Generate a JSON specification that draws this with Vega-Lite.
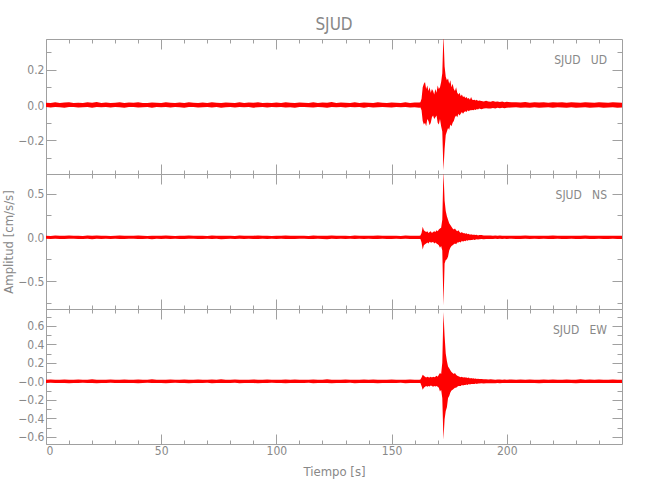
{
"$schema": "https://vega.github.io/schema/vega-lite/v6.json",
"background": "white",
"padding": {"left": 2, "top": 15, "right": 5, "bottom": 5},
"bounds": "flush",
"spacing": 0,
"datasets": {
"ud": [
{"t":0,"hi":0.013,"lo":-0.012},{"t":2,"hi":0.011,"lo":-0.014},{"t":4,"hi":0.015,"lo":-0.011},{"t":6,"hi":0.012,"lo":-0.013},{"t":8,"hi":0.014,"lo":-0.015},{"t":10,"hi":0.016,"lo":-0.012},{"t":12,"hi":0.012,"lo":-0.011},{"t":14,"hi":0.013,"lo":-0.014},{"t":16,"hi":0.011,"lo":-0.013},{"t":18,"hi":0.015,"lo":-0.012},
{"t":20,"hi":0.013,"lo":-0.016},{"t":22,"hi":0.017,"lo":-0.012},{"t":24,"hi":0.012,"lo":-0.013},{"t":26,"hi":0.014,"lo":-0.011},{"t":28,"hi":0.011,"lo":-0.014},{"t":30,"hi":0.013,"lo":-0.012},{"t":32,"hi":0.015,"lo":-0.013},{"t":34,"hi":0.012,"lo":-0.015},{"t":36,"hi":0.014,"lo":-0.012},{"t":38,"hi":0.013,"lo":-0.011},
{"t":40,"hi":0.016,"lo":-0.014},{"t":42,"hi":0.012,"lo":-0.013},{"t":44,"hi":0.011,"lo":-0.012},{"t":46,"hi":0.014,"lo":-0.016},{"t":48,"hi":0.013,"lo":-0.012},{"t":50,"hi":0.012,"lo":-0.013},{"t":52,"hi":0.015,"lo":-0.011},{"t":54,"hi":0.013,"lo":-0.014},{"t":56,"hi":0.011,"lo":-0.012},{"t":58,"hi":0.014,"lo":-0.013},
{"t":60,"hi":0.012,"lo":-0.015},{"t":62,"hi":0.016,"lo":-0.012},{"t":64,"hi":0.013,"lo":-0.011},{"t":66,"hi":0.012,"lo":-0.014},{"t":68,"hi":0.014,"lo":-0.013},{"t":70,"hi":0.011,"lo":-0.012},{"t":72,"hi":0.015,"lo":-0.014},{"t":74,"hi":0.013,"lo":-0.012},{"t":76,"hi":0.012,"lo":-0.016},{"t":78,"hi":0.014,"lo":-0.013},
{"t":80,"hi":0.013,"lo":-0.012},{"t":82,"hi":0.011,"lo":-0.014},{"t":84,"hi":0.015,"lo":-0.011},{"t":86,"hi":0.012,"lo":-0.013},{"t":88,"hi":0.014,"lo":-0.012},{"t":90,"hi":0.013,"lo":-0.015},{"t":92,"hi":0.016,"lo":-0.013},{"t":94,"hi":0.012,"lo":-0.012},{"t":96,"hi":0.013,"lo":-0.014},{"t":98,"hi":0.011,"lo":-0.011},
{"t":100,"hi":0.014,"lo":-0.013},{"t":102,"hi":0.012,"lo":-0.012},{"t":104,"hi":0.015,"lo":-0.014},{"t":106,"hi":0.013,"lo":-0.013},{"t":108,"hi":0.012,"lo":-0.015},{"t":110,"hi":0.014,"lo":-0.012},{"t":112,"hi":0.013,"lo":-0.011},{"t":114,"hi":0.011,"lo":-0.013},{"t":116,"hi":0.015,"lo":-0.014},{"t":118,"hi":0.012,"lo":-0.012},
{"t":120,"hi":0.014,"lo":-0.013},{"t":122,"hi":0.013,"lo":-0.016},{"t":124,"hi":0.017,"lo":-0.012},{"t":126,"hi":0.012,"lo":-0.013},{"t":128,"hi":0.014,"lo":-0.011},{"t":130,"hi":0.013,"lo":-0.014},{"t":132,"hi":0.011,"lo":-0.012},{"t":134,"hi":0.015,"lo":-0.013},{"t":136,"hi":0.012,"lo":-0.012},{"t":138,"hi":0.014,"lo":-0.015},
{"t":140,"hi":0.013,"lo":-0.012},{"t":142,"hi":0.012,"lo":-0.014},{"t":144,"hi":0.016,"lo":-0.013},{"t":146,"hi":0.013,"lo":-0.011},{"t":148,"hi":0.012,"lo":-0.013},{"t":150,"hi":0.014,"lo":-0.014},{"t":152,"hi":0.013,"lo":-0.012},{"t":154,"hi":0.011,"lo":-0.013},{"t":156,"hi":0.015,"lo":-0.012},{"t":158,"hi":0.012,"lo":-0.014},
{"t":160,"hi":0.014,"lo":-0.013},{"t":162,"hi":0.014,"lo":-0.015},{"t":162.5,"hi":0.016,"lo":-0.014},{"t":163,"hi":0.035,"lo":-0.03},{"t":163.5,"hi":0.10,"lo":-0.09},{"t":164,"hi":0.12,"lo":-0.11},{"t":164.5,"hi":0.13,"lo":-0.10},{"t":165,"hi":0.09,"lo":-0.12},{"t":165.5,"hi":0.11,"lo":-0.08},{"t":166,"hi":0.08,"lo":-0.09},
{"t":166.5,"hi":0.10,"lo":-0.115},{"t":167,"hi":0.07,"lo":-0.10},{"t":167.5,"hi":0.09,"lo":-0.07},{"t":168,"hi":0.08,"lo":-0.06},{"t":168.5,"hi":0.06,"lo":-0.08},{"t":169,"hi":0.09,"lo":-0.07},{"t":169.5,"hi":0.07,"lo":-0.06},{"t":170,"hi":0.11,"lo":-0.10},{"t":170.5,"hi":0.09,"lo":-0.11},{"t":171,"hi":0.10,"lo":-0.08},
{"t":171.5,"hi":0.13,"lo":-0.12},{"t":172,"hi":0.18,"lo":-0.15},{"t":172.5,"hi":0.40,"lo":-0.37},{"t":173,"hi":0.22,"lo":-0.25},{"t":173.5,"hi":0.16,"lo":-0.17},{"t":174,"hi":0.14,"lo":-0.15},{"t":174.5,"hi":0.15,"lo":-0.13},{"t":175,"hi":0.12,"lo":-0.14},{"t":175.5,"hi":0.14,"lo":-0.11},{"t":176,"hi":0.10,"lo":-0.12},
{"t":176.5,"hi":0.12,"lo":-0.10},{"t":177,"hi":0.09,"lo":-0.09},{"t":177.5,"hi":0.08,"lo":-0.07},{"t":178,"hi":0.10,"lo":-0.06},{"t":178.5,"hi":0.07,"lo":-0.07},{"t":179,"hi":0.06,"lo":-0.05},{"t":179.5,"hi":0.07,"lo":-0.06},{"t":180,"hi":0.05,"lo":-0.05},{"t":180.5,"hi":0.06,"lo":-0.04},{"t":181,"hi":0.045,"lo":-0.05},
{"t":181.5,"hi":0.05,"lo":-0.04},{"t":182,"hi":0.04,"lo":-0.035},{"t":182.5,"hi":0.045,"lo":-0.04},{"t":183,"hi":0.035,"lo":-0.03},{"t":183.5,"hi":0.04,"lo":-0.035},{"t":184,"hi":0.03,"lo":-0.03},{"t":184.5,"hi":0.045,"lo":-0.03},{"t":185,"hi":0.03,"lo":-0.028},{"t":185.5,"hi":0.028,"lo":-0.03},{"t":186,"hi":0.03,"lo":-0.025},
{"t":186.5,"hi":0.025,"lo":-0.028},{"t":187,"hi":0.03,"lo":-0.022},{"t":187.5,"hi":0.022,"lo":-0.025},{"t":188,"hi":0.025,"lo":-0.02},{"t":189,"hi":0.022,"lo":-0.024},{"t":190,"hi":0.02,"lo":-0.02},{"t":191,"hi":0.024,"lo":-0.018},{"t":192,"hi":0.02,"lo":-0.02},{"t":193,"hi":0.018,"lo":-0.02},{"t":194,"hi":0.022,"lo":-0.017},
{"t":195,"hi":0.018,"lo":-0.02},{"t":196,"hi":0.02,"lo":-0.016},{"t":197,"hi":0.017,"lo":-0.018},{"t":198,"hi":0.02,"lo":-0.016},{"t":199,"hi":0.016,"lo":-0.018},{"t":200,"hi":0.018,"lo":-0.016},{"t":202,"hi":0.015,"lo":-0.014},{"t":204,"hi":0.016,"lo":-0.013},{"t":206,"hi":0.014,"lo":-0.016},{"t":208,"hi":0.017,"lo":-0.014},
{"t":210,"hi":0.013,"lo":-0.015},{"t":212,"hi":0.015,"lo":-0.013},{"t":214,"hi":0.014,"lo":-0.016},{"t":216,"hi":0.016,"lo":-0.014},{"t":218,"hi":0.013,"lo":-0.013},{"t":220,"hi":0.015,"lo":-0.015},{"t":222,"hi":0.014,"lo":-0.013},{"t":224,"hi":0.016,"lo":-0.014},{"t":226,"hi":0.013,"lo":-0.016},{"t":228,"hi":0.015,"lo":-0.013},
{"t":230,"hi":0.014,"lo":-0.015},{"t":232,"hi":0.013,"lo":-0.014},{"t":234,"hi":0.016,"lo":-0.013},{"t":236,"hi":0.014,"lo":-0.015},{"t":238,"hi":0.013,"lo":-0.014},{"t":240,"hi":0.015,"lo":-0.013},{"t":242,"hi":0.014,"lo":-0.016},{"t":244,"hi":0.013,"lo":-0.014},{"t":246,"hi":0.015,"lo":-0.013},{"t":248,"hi":0.014,"lo":-0.015},{"t":250,"hi":0.013,"lo":-0.014}
],
"ns": [
{"t":0,"hi":0.018,"lo":-0.017},{"t":2,"hi":0.016,"lo":-0.019},{"t":4,"hi":0.020,"lo":-0.016},{"t":6,"hi":0.017,"lo":-0.018},{"t":8,"hi":0.019,"lo":-0.020},{"t":10,"hi":0.021,"lo":-0.017},{"t":12,"hi":0.017,"lo":-0.016},{"t":14,"hi":0.018,"lo":-0.019},{"t":16,"hi":0.016,"lo":-0.018},{"t":18,"hi":0.020,"lo":-0.017},
{"t":20,"hi":0.018,"lo":-0.021},{"t":22,"hi":0.022,"lo":-0.017},{"t":24,"hi":0.017,"lo":-0.018},{"t":26,"hi":0.019,"lo":-0.016},{"t":28,"hi":0.016,"lo":-0.019},{"t":30,"hi":0.018,"lo":-0.017},{"t":32,"hi":0.020,"lo":-0.018},{"t":34,"hi":0.017,"lo":-0.020},{"t":36,"hi":0.019,"lo":-0.017},{"t":38,"hi":0.018,"lo":-0.016},
{"t":40,"hi":0.021,"lo":-0.019},{"t":42,"hi":0.017,"lo":-0.018},{"t":44,"hi":0.016,"lo":-0.017},{"t":46,"hi":0.019,"lo":-0.021},{"t":48,"hi":0.018,"lo":-0.017},{"t":50,"hi":0.017,"lo":-0.018},{"t":52,"hi":0.020,"lo":-0.016},{"t":54,"hi":0.018,"lo":-0.019},{"t":56,"hi":0.016,"lo":-0.017},{"t":58,"hi":0.019,"lo":-0.018},
{"t":60,"hi":0.017,"lo":-0.020},{"t":62,"hi":0.021,"lo":-0.017},{"t":64,"hi":0.018,"lo":-0.016},{"t":66,"hi":0.017,"lo":-0.019},{"t":68,"hi":0.019,"lo":-0.018},{"t":70,"hi":0.016,"lo":-0.017},{"t":72,"hi":0.020,"lo":-0.019},{"t":74,"hi":0.018,"lo":-0.017},{"t":76,"hi":0.017,"lo":-0.021},{"t":78,"hi":0.019,"lo":-0.018},
{"t":80,"hi":0.018,"lo":-0.017},{"t":82,"hi":0.016,"lo":-0.019},{"t":84,"hi":0.020,"lo":-0.016},{"t":86,"hi":0.017,"lo":-0.018},{"t":88,"hi":0.019,"lo":-0.017},{"t":90,"hi":0.018,"lo":-0.020},{"t":92,"hi":0.021,"lo":-0.018},{"t":94,"hi":0.017,"lo":-0.017},{"t":96,"hi":0.018,"lo":-0.019},{"t":98,"hi":0.016,"lo":-0.016},
{"t":100,"hi":0.019,"lo":-0.018},{"t":102,"hi":0.017,"lo":-0.017},{"t":104,"hi":0.020,"lo":-0.019},{"t":106,"hi":0.018,"lo":-0.018},{"t":108,"hi":0.017,"lo":-0.020},{"t":110,"hi":0.019,"lo":-0.017},{"t":112,"hi":0.018,"lo":-0.016},{"t":114,"hi":0.016,"lo":-0.018},{"t":116,"hi":0.020,"lo":-0.019},{"t":118,"hi":0.017,"lo":-0.017},
{"t":120,"hi":0.019,"lo":-0.018},{"t":122,"hi":0.018,"lo":-0.021},{"t":124,"hi":0.022,"lo":-0.017},{"t":126,"hi":0.017,"lo":-0.018},{"t":128,"hi":0.019,"lo":-0.016},{"t":130,"hi":0.018,"lo":-0.019},{"t":132,"hi":0.016,"lo":-0.017},{"t":134,"hi":0.020,"lo":-0.018},{"t":136,"hi":0.017,"lo":-0.017},{"t":138,"hi":0.019,"lo":-0.020},
{"t":140,"hi":0.018,"lo":-0.017},{"t":142,"hi":0.017,"lo":-0.019},{"t":144,"hi":0.021,"lo":-0.018},{"t":146,"hi":0.018,"lo":-0.016},{"t":148,"hi":0.017,"lo":-0.018},{"t":150,"hi":0.019,"lo":-0.019},{"t":152,"hi":0.018,"lo":-0.017},{"t":154,"hi":0.016,"lo":-0.018},{"t":156,"hi":0.020,"lo":-0.017},{"t":158,"hi":0.017,"lo":-0.019},
{"t":160,"hi":0.019,"lo":-0.018},{"t":162,"hi":0.018,"lo":-0.018},{"t":162.5,"hi":0.02,"lo":-0.019},{"t":163,"hi":0.05,"lo":-0.06},{"t":163.5,"hi":0.12,"lo":-0.14},{"t":164,"hi":0.08,"lo":-0.09},{"t":164.5,"hi":0.07,"lo":-0.08},{"t":165,"hi":0.06,"lo":-0.07},{"t":165.5,"hi":0.07,"lo":-0.06},{"t":166,"hi":0.05,"lo":-0.07},
{"t":166.5,"hi":0.06,"lo":-0.05},{"t":167,"hi":0.07,"lo":-0.06},{"t":167.5,"hi":0.05,"lo":-0.06},{"t":168,"hi":0.06,"lo":-0.05},{"t":168.5,"hi":0.07,"lo":-0.07},{"t":169,"hi":0.06,"lo":-0.06},{"t":169.5,"hi":0.08,"lo":-0.07},{"t":170,"hi":0.07,"lo":-0.08},{"t":170.5,"hi":0.09,"lo":-0.09},{"t":171,"hi":0.10,"lo":-0.12},
{"t":171.5,"hi":0.11,"lo":-0.10},{"t":172,"hi":0.20,"lo":-0.15},{"t":172.5,"hi":0.76,"lo":-0.78},{"t":173,"hi":0.42,"lo":-0.30},{"t":173.5,"hi":0.30,"lo":-0.26},{"t":174,"hi":0.24,"lo":-0.25},{"t":174.5,"hi":0.20,"lo":-0.22},{"t":175,"hi":0.16,"lo":-0.15},{"t":175.5,"hi":0.14,"lo":-0.12},{"t":176,"hi":0.12,"lo":-0.10},
{"t":176.5,"hi":0.10,"lo":-0.09},{"t":177,"hi":0.09,"lo":-0.08},{"t":177.5,"hi":0.10,"lo":-0.07},{"t":178,"hi":0.08,"lo":-0.08},{"t":178.5,"hi":0.07,"lo":-0.06},{"t":179,"hi":0.08,"lo":-0.06},{"t":179.5,"hi":0.06,"lo":-0.05},{"t":180,"hi":0.05,"lo":-0.06},{"t":180.5,"hi":0.06,"lo":-0.04},{"t":181,"hi":0.045,"lo":-0.05},
{"t":181.5,"hi":0.05,"lo":-0.04},{"t":182,"hi":0.04,"lo":-0.045},{"t":182.5,"hi":0.045,"lo":-0.035},{"t":183,"hi":0.035,"lo":-0.04},{"t":183.5,"hi":0.04,"lo":-0.03},{"t":184,"hi":0.03,"lo":-0.035},{"t":184.5,"hi":0.035,"lo":-0.03},{"t":185,"hi":0.03,"lo":-0.03},{"t":185.5,"hi":0.03,"lo":-0.025},{"t":186,"hi":0.028,"lo":-0.03},
{"t":186.5,"hi":0.025,"lo":-0.025},{"t":187,"hi":0.03,"lo":-0.022},{"t":187.5,"hi":0.022,"lo":-0.025},{"t":188,"hi":0.025,"lo":-0.022},{"t":189,"hi":0.025,"lo":-0.02},{"t":190,"hi":0.022,"lo":-0.022},{"t":191,"hi":0.02,"lo":-0.02},{"t":192,"hi":0.022,"lo":-0.018},{"t":193,"hi":0.02,"lo":-0.02},{"t":194,"hi":0.018,"lo":-0.02},
{"t":195,"hi":0.02,"lo":-0.017},{"t":196,"hi":0.018,"lo":-0.018},{"t":197,"hi":0.02,"lo":-0.017},{"t":198,"hi":0.017,"lo":-0.019},{"t":199,"hi":0.018,"lo":-0.016},{"t":200,"hi":0.017,"lo":-0.018},{"t":202,"hi":0.018,"lo":-0.017},{"t":204,"hi":0.019,"lo":-0.018},{"t":206,"hi":0.017,"lo":-0.019},{"t":208,"hi":0.020,"lo":-0.017},
{"t":210,"hi":0.017,"lo":-0.018},{"t":212,"hi":0.019,"lo":-0.017},{"t":214,"hi":0.018,"lo":-0.020},{"t":216,"hi":0.019,"lo":-0.017},{"t":218,"hi":0.017,"lo":-0.018},{"t":220,"hi":0.020,"lo":-0.019},{"t":222,"hi":0.018,"lo":-0.017},{"t":224,"hi":0.019,"lo":-0.018},{"t":226,"hi":0.017,"lo":-0.020},{"t":228,"hi":0.019,"lo":-0.017},
{"t":230,"hi":0.018,"lo":-0.019},{"t":232,"hi":0.017,"lo":-0.018},{"t":234,"hi":0.020,"lo":-0.017},{"t":236,"hi":0.018,"lo":-0.019},{"t":238,"hi":0.017,"lo":-0.018},{"t":240,"hi":0.019,"lo":-0.017},{"t":242,"hi":0.018,"lo":-0.020},{"t":244,"hi":0.017,"lo":-0.018},{"t":246,"hi":0.019,"lo":-0.017},{"t":248,"hi":0.018,"lo":-0.019},{"t":250,"hi":0.017,"lo":-0.018}
],
"ew": [
{"t":0,"hi":0.017,"lo":-0.018},{"t":2,"hi":0.019,"lo":-0.016},{"t":4,"hi":0.016,"lo":-0.019},{"t":6,"hi":0.018,"lo":-0.017},{"t":8,"hi":0.020,"lo":-0.018},{"t":10,"hi":0.017,"lo":-0.020},{"t":12,"hi":0.016,"lo":-0.017},{"t":14,"hi":0.019,"lo":-0.018},{"t":16,"hi":0.018,"lo":-0.016},{"t":18,"hi":0.017,"lo":-0.019},
{"t":20,"hi":0.021,"lo":-0.018},{"t":22,"hi":0.017,"lo":-0.021},{"t":24,"hi":0.018,"lo":-0.017},{"t":26,"hi":0.016,"lo":-0.018},{"t":28,"hi":0.019,"lo":-0.016},{"t":30,"hi":0.017,"lo":-0.018},{"t":32,"hi":0.018,"lo":-0.019},{"t":34,"hi":0.020,"lo":-0.017},{"t":36,"hi":0.017,"lo":-0.018},{"t":38,"hi":0.016,"lo":-0.017},
{"t":40,"hi":0.019,"lo":-0.020},{"t":42,"hi":0.018,"lo":-0.017},{"t":44,"hi":0.017,"lo":-0.016},{"t":46,"hi":0.021,"lo":-0.019},{"t":48,"hi":0.017,"lo":-0.018},{"t":50,"hi":0.018,"lo":-0.017},{"t":52,"hi":0.016,"lo":-0.020},{"t":54,"hi":0.019,"lo":-0.018},{"t":56,"hi":0.017,"lo":-0.016},{"t":58,"hi":0.018,"lo":-0.019},
{"t":60,"hi":0.020,"lo":-0.017},{"t":62,"hi":0.017,"lo":-0.021},{"t":64,"hi":0.016,"lo":-0.018},{"t":66,"hi":0.019,"lo":-0.017},{"t":68,"hi":0.018,"lo":-0.019},{"t":70,"hi":0.017,"lo":-0.016},{"t":72,"hi":0.019,"lo":-0.020},{"t":74,"hi":0.017,"lo":-0.018},{"t":76,"hi":0.021,"lo":-0.017},{"t":78,"hi":0.018,"lo":-0.019},
{"t":80,"hi":0.017,"lo":-0.018},{"t":82,"hi":0.019,"lo":-0.016},{"t":84,"hi":0.016,"lo":-0.020},{"t":86,"hi":0.018,"lo":-0.017},{"t":88,"hi":0.017,"lo":-0.019},{"t":90,"hi":0.020,"lo":-0.018},{"t":92,"hi":0.018,"lo":-0.021},{"t":94,"hi":0.017,"lo":-0.017},{"t":96,"hi":0.019,"lo":-0.018},{"t":98,"hi":0.016,"lo":-0.016},
{"t":100,"hi":0.018,"lo":-0.019},{"t":102,"hi":0.017,"lo":-0.017},{"t":104,"hi":0.019,"lo":-0.020},{"t":106,"hi":0.018,"lo":-0.018},{"t":108,"hi":0.020,"lo":-0.017},{"t":110,"hi":0.017,"lo":-0.019},{"t":112,"hi":0.016,"lo":-0.018},{"t":114,"hi":0.018,"lo":-0.016},{"t":116,"hi":0.019,"lo":-0.020},{"t":118,"hi":0.017,"lo":-0.017},
{"t":120,"hi":0.018,"lo":-0.019},{"t":122,"hi":0.021,"lo":-0.018},{"t":124,"hi":0.017,"lo":-0.022},{"t":126,"hi":0.018,"lo":-0.017},{"t":128,"hi":0.016,"lo":-0.019},{"t":130,"hi":0.019,"lo":-0.018},{"t":132,"hi":0.017,"lo":-0.016},{"t":134,"hi":0.018,"lo":-0.020},{"t":136,"hi":0.017,"lo":-0.017},{"t":138,"hi":0.020,"lo":-0.019},
{"t":140,"hi":0.017,"lo":-0.018},{"t":142,"hi":0.019,"lo":-0.017},{"t":144,"hi":0.018,"lo":-0.021},{"t":146,"hi":0.016,"lo":-0.018},{"t":148,"hi":0.018,"lo":-0.017},{"t":150,"hi":0.019,"lo":-0.019},{"t":152,"hi":0.017,"lo":-0.018},{"t":154,"hi":0.018,"lo":-0.016},{"t":156,"hi":0.017,"lo":-0.020},{"t":158,"hi":0.019,"lo":-0.017},
{"t":160,"hi":0.018,"lo":-0.019},{"t":162,"hi":0.017,"lo":-0.018},{"t":162.5,"hi":0.019,"lo":-0.018},{"t":163,"hi":0.04,"lo":-0.05},{"t":163.5,"hi":0.07,"lo":-0.09},{"t":164,"hi":0.06,"lo":-0.07},{"t":164.5,"hi":0.05,"lo":-0.06},{"t":165,"hi":0.04,"lo":-0.05},{"t":165.5,"hi":0.05,"lo":-0.06},{"t":166,"hi":0.045,"lo":-0.05},
{"t":166.5,"hi":0.04,"lo":-0.055},{"t":167,"hi":0.05,"lo":-0.045},{"t":167.5,"hi":0.04,"lo":-0.05},{"t":168,"hi":0.05,"lo":-0.06},{"t":168.5,"hi":0.045,"lo":-0.05},{"t":169,"hi":0.05,"lo":-0.055},{"t":169.5,"hi":0.06,"lo":-0.05},{"t":170,"hi":0.05,"lo":-0.06},{"t":170.5,"hi":0.07,"lo":-0.07},{"t":171,"hi":0.09,"lo":-0.11},
{"t":171.5,"hi":0.08,"lo":-0.09},{"t":172,"hi":0.20,"lo":-0.18},{"t":172.5,"hi":0.75,"lo":-0.63},{"t":173,"hi":0.49,"lo":-0.41},{"t":173.5,"hi":0.30,"lo":-0.32},{"t":174,"hi":0.22,"lo":-0.28},{"t":174.5,"hi":0.16,"lo":-0.18},{"t":175,"hi":0.14,"lo":-0.16},{"t":175.5,"hi":0.12,"lo":-0.12},{"t":176,"hi":0.10,"lo":-0.10},
{"t":176.5,"hi":0.09,"lo":-0.09},{"t":177,"hi":0.08,"lo":-0.08},{"t":177.5,"hi":0.09,"lo":-0.07},{"t":178,"hi":0.07,"lo":-0.07},{"t":178.5,"hi":0.06,"lo":-0.06},{"t":179,"hi":0.055,"lo":-0.05},{"t":179.5,"hi":0.05,"lo":-0.05},{"t":180,"hi":0.045,"lo":-0.05},{"t":180.5,"hi":0.05,"lo":-0.04},{"t":181,"hi":0.04,"lo":-0.045},
{"t":181.5,"hi":0.045,"lo":-0.04},{"t":182,"hi":0.04,"lo":-0.04},{"t":182.5,"hi":0.04,"lo":-0.035},{"t":183,"hi":0.035,"lo":-0.04},{"t":183.5,"hi":0.04,"lo":-0.03},{"t":184,"hi":0.03,"lo":-0.035},{"t":184.5,"hi":0.035,"lo":-0.03},{"t":185,"hi":0.03,"lo":-0.03},{"t":185.5,"hi":0.032,"lo":-0.028},{"t":186,"hi":0.028,"lo":-0.03},
{"t":186.5,"hi":0.03,"lo":-0.025},{"t":187,"hi":0.025,"lo":-0.028},{"t":187.5,"hi":0.028,"lo":-0.025},{"t":188,"hi":0.025,"lo":-0.025},{"t":189,"hi":0.024,"lo":-0.022},{"t":190,"hi":0.022,"lo":-0.024},{"t":191,"hi":0.022,"lo":-0.02},{"t":192,"hi":0.02,"lo":-0.022},{"t":193,"hi":0.022,"lo":-0.02},{"t":194,"hi":0.02,"lo":-0.02},
{"t":195,"hi":0.018,"lo":-0.021},{"t":196,"hi":0.02,"lo":-0.018},{"t":197,"hi":0.019,"lo":-0.02},{"t":198,"hi":0.018,"lo":-0.018},{"t":199,"hi":0.02,"lo":-0.017},{"t":200,"hi":0.018,"lo":-0.019},{"t":202,"hi":0.019,"lo":-0.017},{"t":204,"hi":0.017,"lo":-0.019},{"t":206,"hi":0.020,"lo":-0.018},{"t":208,"hi":0.018,"lo":-0.017},
{"t":210,"hi":0.019,"lo":-0.019},{"t":212,"hi":0.017,"lo":-0.018},{"t":214,"hi":0.018,"lo":-0.020},{"t":216,"hi":0.020,"lo":-0.017},{"t":218,"hi":0.017,"lo":-0.018},{"t":220,"hi":0.019,"lo":-0.019},{"t":222,"hi":0.018,"lo":-0.017},{"t":224,"hi":0.017,"lo":-0.018},{"t":226,"hi":0.020,"lo":-0.019},{"t":228,"hi":0.018,"lo":-0.017},
{"t":230,"hi":0.017,"lo":-0.020},{"t":232,"hi":0.021,"lo":-0.018},{"t":234,"hi":0.018,"lo":-0.017},{"t":236,"hi":0.019,"lo":-0.019},{"t":238,"hi":0.017,"lo":-0.018},{"t":240,"hi":0.020,"lo":-0.017},{"t":242,"hi":0.018,"lo":-0.019},{"t":244,"hi":0.017,"lo":-0.018},{"t":246,"hi":0.019,"lo":-0.017},{"t":248,"hi":0.018,"lo":-0.019},{"t":250,"hi":0.017,"lo":-0.018}
]
},
"vconcat": [
{
"width": 576, "height": 135,
"title": {"text": "SJUD", "anchor": "middle", "frame": "group", "fontSize": 17, "fontWeight": "normal", "color": "#888888", "offset": 5},
"layer": [
{"data": {"name": "ud"},
 "mark": {"type": "area", "color": "#ff0000", "opacity": 1, "clip": true},
 "encoding": {
  "x": {"field": "t", "type": "quantitative", "scale": {"domain": [0, 250], "nice": false, "zero": false},
        "axis": {"orient": "bottom", "values": [0,10,20,30,40,50,60,70,80,90,100,110,120,130,140,150,160,170,180,190,200,210,220,230,240], "labels": false, "title": null,
                 "tickSize": {"condition": {"test": "datum.value % 50 === 0", "value": -10}, "value": -4}}},
  "y": {"field": "lo", "type": "quantitative", "scale": {"domain": [-0.391, 0.374], "nice": false, "zero": false},
        "axis": {"orient": "left", "values": [-0.3,-0.2,-0.1,0,0.1,0.2,0.3], "title": null, "labelPadding": 12,
                 "labelExpr": "abs(datum.value*5 - round(datum.value*5)) < 0.001 ? format(datum.value, '.1f') : ''",
                 "tickSize": {"condition": {"test": "abs(datum.value*5 - round(datum.value*5)) < 0.001", "value": -10}, "value": -5}}},
  "y2": {"field": "hi"}
 }},
{"data": {"values": [{}]},
 "mark": {"type": "text", "align": "right", "baseline": "middle", "fontSize": 12, "color": "#888888"},
 "encoding": {
  "x": {"datum": 243.5, "type": "quantitative",
        "axis": {"orient": "top", "values": [0,10,20,30,40,50,60,70,80,90,100,110,120,130,140,150,160,170,180,190,200,210,220,230,240], "labels": false, "title": null,
                 "tickSize": {"condition": {"test": "datum.value % 50 === 0", "value": -10}, "value": -4}}},
  "y": {"datum": 0.255, "type": "quantitative",
        "axis": {"orient": "right", "values": [-0.3,-0.2,-0.1,0,0.1,0.2,0.3], "labels": false, "title": null,
                 "tickSize": {"condition": {"test": "abs(datum.value*5 - round(datum.value*5)) < 0.001", "value": -10}, "value": -5}}},
  "text": {"value": "SJUD\u00a0\u00a0\u00a0UD"}
 }}
],
"resolve": {"axis": {"x": "independent", "y": "independent"}}
},
{
"width": 576, "height": 135,
"layer": [
{"data": {"name": "ns"},
 "mark": {"type": "area", "color": "#ff0000", "opacity": 1, "clip": true},
 "encoding": {
  "x": {"field": "t", "type": "quantitative", "scale": {"domain": [0, 250], "nice": false, "zero": false},
        "axis": {"orient": "bottom", "values": [0,10,20,30,40,50,60,70,80,90,100,110,120,130,140,150,160,170,180,190,200,210,220,230,240], "labels": false, "title": null,
                 "tickSize": {"condition": {"test": "datum.value % 50 === 0", "value": -10}, "value": -4}}},
  "y": {"field": "lo", "type": "quantitative", "scale": {"domain": [-0.82, 0.724], "nice": false, "zero": false},
        "axis": {"orient": "left", "values": [-0.75,-0.5,-0.25,0,0.25,0.5], "title": "Amplitud [cm/s/s]", "labelPadding": 12, "titlePadding": 2,
                 "labelExpr": "abs(datum.value*2 - round(datum.value*2)) < 0.001 ? format(datum.value, '.1f') : ''",
                 "tickSize": {"condition": {"test": "abs(datum.value*2 - round(datum.value*2)) < 0.001", "value": -10}, "value": -5}}},
  "y2": {"field": "hi"}
 }},
{"data": {"values": [{}]},
 "mark": {"type": "text", "align": "right", "baseline": "middle", "fontSize": 12, "color": "#888888"},
 "encoding": {
  "x": {"datum": 243.5, "type": "quantitative",
        "axis": {"orient": "top", "values": [0,10,20,30,40,50,60,70,80,90,100,110,120,130,140,150,160,170,180,190,200,210,220,230,240], "labels": false, "title": null,
                 "tickSize": {"condition": {"test": "datum.value % 50 === 0", "value": -10}, "value": -4}}},
  "y": {"datum": 0.487, "type": "quantitative",
        "axis": {"orient": "right", "values": [-0.75,-0.5,-0.25,0,0.25,0.5], "labels": false, "title": null,
                 "tickSize": {"condition": {"test": "abs(datum.value*2 - round(datum.value*2)) < 0.001", "value": -10}, "value": -5}}},
  "text": {"value": "SJUD\u00a0\u00a0\u00a0NS"}
 }}
],
"resolve": {"axis": {"x": "independent", "y": "independent"}}
},
{
"width": 576, "height": 135,
"layer": [
{"data": {"name": "ew"},
 "mark": {"type": "area", "color": "#ff0000", "opacity": 1, "clip": true},
 "encoding": {
  "x": {"field": "t", "type": "quantitative", "scale": {"domain": [0, 250], "nice": false, "zero": false},
        "axis": {"orient": "bottom", "values": [0,10,20,30,40,50,60,70,80,90,100,110,120,130,140,150,160,170,180,190,200,210,220,230,240], "title": "Tiempo [s]", "labelPadding": 11, "titlePadding": 3,
                 "labelExpr": "datum.value % 50 === 0 ? format(datum.value, 'd') : ''",
                 "tickSize": {"condition": {"test": "datum.value % 50 === 0", "value": -10}, "value": -4}}},
  "y": {"field": "lo", "type": "quantitative", "scale": {"domain": [-0.678, 0.782], "nice": false, "zero": false},
        "axis": {"orient": "left", "values": [-0.6,-0.5,-0.4,-0.3,-0.2,-0.1,0,0.1,0.2,0.3,0.4,0.5,0.6,0.7], "title": null, "labelPadding": 12,
                 "labelExpr": "abs(datum.value) < 0.001 ? '\u22120.0' : (abs(datum.value*5 - round(datum.value*5)) < 0.001 ? format(datum.value, '.1f') : '')",
                 "tickSize": {"condition": {"test": "abs(datum.value*5 - round(datum.value*5)) < 0.001", "value": -10}, "value": -5}}},
  "y2": {"field": "hi"}
 }},
{"data": {"values": [{}]},
 "mark": {"type": "text", "align": "right", "baseline": "middle", "fontSize": 12, "color": "#888888"},
 "encoding": {
  "x": {"datum": 243.5, "type": "quantitative",
        "axis": {"orient": "top", "values": [0,10,20,30,40,50,60,70,80,90,100,110,120,130,140,150,160,170,180,190,200,210,220,230,240], "labels": false, "title": null,
                 "tickSize": {"condition": {"test": "datum.value % 50 === 0", "value": -10}, "value": -4}}},
  "y": {"datum": 0.555, "type": "quantitative",
        "axis": {"orient": "right", "values": [-0.6,-0.5,-0.4,-0.3,-0.2,-0.1,0,0.1,0.2,0.3,0.4,0.5,0.6,0.7], "labels": false, "title": null,
                 "tickSize": {"condition": {"test": "abs(datum.value*5 - round(datum.value*5)) < 0.001", "value": -10}, "value": -5}}},
  "text": {"value": "SJUD\u00a0\u00a0\u00a0EW"}
 }}
],
"resolve": {"axis": {"x": "independent", "y": "independent"}}
}
],
"config": {
 "view": {"stroke": null},
 "font": "DejaVu Sans Condensed, Liberation Sans Narrow, sans-serif",
 "axis": {"grid": false, "domainColor": "#a0a0a0", "tickColor": "#a0a0a0", "labelColor": "#888888", "titleColor": "#888888",
          "labelFontSize": 12, "titleFontSize": 13, "titleFontWeight": "normal", "labelOverlap": false, "domainWidth": 1, "tickWidth": 1,
          "labelFont": "DejaVu Sans Condensed, Liberation Sans Narrow, sans-serif", "titleFont": "DejaVu Sans Condensed, Liberation Sans Narrow, sans-serif"},
 "title": {"font": "DejaVu Sans Condensed, Liberation Sans Narrow, sans-serif"}
}
}
